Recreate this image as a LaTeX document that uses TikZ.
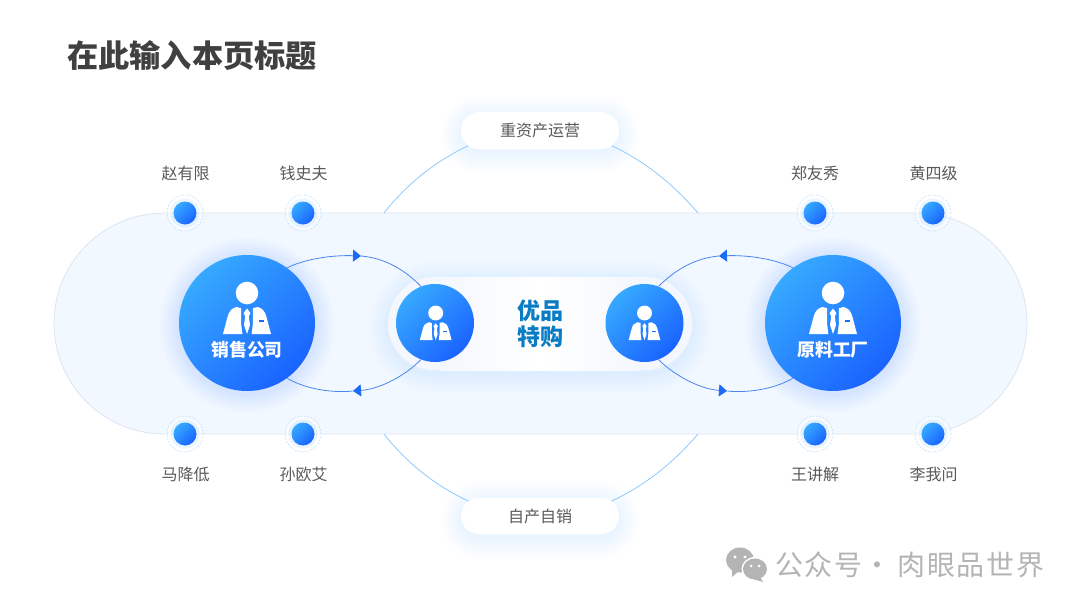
\documentclass[tikz,border=0pt]{standalone}
\usepackage{fontspec}
\setmainfont{Noto Sans CJK SC}
\newfontfamily\wmfont[LetterSpace=5.5]{Noto Sans CJK SC}
\usetikzlibrary{arrows.meta,calc,backgrounds}
\pgfdeclarelayer{glowlayer}
\pgfdeclarelayer{midlayer}
\pgfsetlayers{glowlayer,midlayer,main}
\definecolor{gradA}{HTML}{36A9FF}
\definecolor{gradB}{HTML}{1A63FF}
\definecolor{glowblue}{HTML}{2F86FF}
\definecolor{bandfill}{HTML}{F2F8FF}
\definecolor{bandline}{HTML}{DDE5EE}
\definecolor{arcblue}{HTML}{8CCBFF}
\definecolor{linkblue}{HTML}{4A86F0}
\definecolor{tipblue}{HTML}{1A6BF5}
\definecolor{labelgrey}{HTML}{595959}
\definecolor{wmgrey}{HTML}{B4B4B4}
\definecolor{centerblue}{HTML}{0A7CC4}
\definecolor{halo}{HTML}{BFE0FB}
\definecolor{pillring}{HTML}{F4F7FE}
\tikzset{
  gradcircle/.style={circle,inner sep=0pt,minimum size=#1,left color=gradA,right color=gradB,shading angle=45},
  band/.style={rectangle,rounded corners=110.5pt,fill=bandfill,draw=bandline,line width=.8pt,minimum width=973pt,minimum height=221pt,inner sep=0pt},
  whitepill/.style={rectangle,rounded corners=18pt,fill=white,minimum width=158pt,minimum height=37pt,inner sep=0pt,text=labelgrey,font=\fontsize{16}{19}\selectfont},
  person label/.style={text=labelgrey,font=\fontsize{16}{19}\selectfont,inner sep=0pt},
  role label/.style={text=white,font=\fontsize{17.8}{21}\selectfont\bfseries,inner sep=0pt},
  outer arc/.style={draw=arcblue,line width=.8pt},
  link/.style={draw=linkblue,line width=.8pt},
  linktip/.style={draw=linkblue,line width=.8pt,-{Triangle[length=8pt,width=12pt,color=tipblue]}},
  dot/.style={gradcircle=23pt},
  halo ring/.style={circle,draw=halo,dashed,dash pattern=on 1.6pt off 1.6pt,line width=.7pt,fill=white,fill opacity=.4,draw opacity=1,minimum size=36pt,inner sep=0pt},
  halo glow/.style={circle,fill=gradA,fill opacity=.1,draw=none,minimum size=29pt,inner sep=0pt},
}
\newcommand{\circleglow}[4]{% x y r spread
  \foreach \i in {1,...,10}{
    \fill[glowblue,opacity=.012] (#1,#2+2) circle[radius=#3+\i*#4];
  }}
\newcommand{\pillglow}[5]{% x1 y1 x2 y2 base radius
  \foreach \i in {1,...,10}{
    \fill[glowblue,opacity=.006,rounded corners=#5+\i*2] (#1-\i*2,#2-\i*2+4) rectangle (#3+\i*2,#4+\i*2+4);
  }}
\newcommand{\personicon}[3]{%
  \begin{scope}[shift={(#1,#2)},scale=#3]
    \fill[white] (0,0) circle[radius=11.3];
    \fill[white] (-5.8,15.2) -- (-10.5,14) .. controls (-15,15) and (-18,18) .. (-19.5,24) -- (-24,41) -- (-4.6,41) -- (-6,30) -- cycle;
    \fill[white] (5.8,15.2) -- (10.5,14) .. controls (15,15) and (18,18) .. (19.5,24) -- (24,41) -- (4.6,41) -- (6,30) -- cycle;
    \fill[white] (0,15.5) -- (-3.4,20) -- (-1.8,23.5) -- (-3,32) -- (0,41) -- (3,32) -- (1.8,23.5) -- (3.4,20) -- cycle;
    \fill[tipblue] (11.5,27.3) rectangle (17,28.8);
  \end{scope}}
\begin{document}
\begin{tikzpicture}[x=1pt,y=-1pt]
\useasboundingbox (0,0) rectangle (1080,608);
\begin{pgfonlayer}{glowlayer}
  \fill[white] (0,0) rectangle (1080,608);
\end{pgfonlayer}

% title
\node[anchor=west,inner sep=0pt,text=black!75,font=\fontsize{31.2}{36}\selectfont\bfseries] (title) at (67,56) {在此输入本页标题};

% band
\begin{pgfonlayer}{glowlayer}
  \node[band] (bandnode) at (540.5,323.5) {};
\end{pgfonlayer}

% glows
\begin{pgfonlayer}{midlayer}
  \circleglow{247}{323}{68}{2}
  \circleglow{833}{323}{68}{2}
  \pillglow{388}{277}{692}{370}{46}
  \pillglow{461}{112}{619}{149}{18}
  \pillglow{461}{498}{619}{534}{18}
\end{pgfonlayer}

% label pills
\node[whitepill] (topPill) at (540,130.5) {重资产运营};
\node[whitepill,minimum height=36pt] (botPill) at (540,516) {自产自销};

% outer arcs
\coordinate (arcTL) at (384,213);
\coordinate (arcTR) at (698,213);
\coordinate (arcBL) at (384,434);
\coordinate (arcBR) at (698,434);
\begin{pgfonlayer}{midlayer}
  \draw[outer arc] (arcTL) .. controls (405,186) and (437,158) .. ($(topPill.center)+(-60,10)$);
  \draw[outer arc] (arcTR) .. controls (675,186) and (643,158) .. ($(topPill.center)+(60,10)$);
  \draw[outer arc] (arcBL) .. controls (405,461) and (437,489) .. ($(botPill.center)+(-60,-10)$);
  \draw[outer arc] (arcBR) .. controls (675,461) and (643,489) .. ($(botPill.center)+(60,-10)$);
\end{pgfonlayer}

% center pill
\node[rectangle,rounded corners=46pt,minimum width=304pt,minimum height=93pt,inner sep=0pt,
      fill=pillring] (centerPill) at (540,323.5) {};
\shade[left color=pillring,right color=pillring,middle color=white] (440,277) rectangle (640,370);

% main circles
\node[gradcircle=136pt] (bigL) at (247,323) {};
\node[gradcircle=136pt] (bigR) at (833,323) {};
\node[gradcircle=78pt] (smallL) at (435,323) {};
\node[gradcircle=78pt] (smallR) at (644.5,323) {};
\personicon{247}{293}{1}
\personicon{833}{293}{1}
\personicon{435.7}{313}{.66}
\personicon{644.5}{313}{.66}
\node[role label] (roleL) at (247,350) {销售公司};
\node[role label] (roleR) at (833,350) {原料工厂};
\node[inner sep=0pt,align=center,text=centerblue,font=\fontsize{23}{26}\selectfont\bfseries] (centerText) at (540,323.5) {优品\\特购};

% links
\coordinate (tipTL) at (361,256);
\coordinate (tipBL) at (353,391);
\coordinate (tipTR) at (719,256);
\coordinate (tipBR) at (727,391);
\draw[linktip] (bigL.54) .. controls (307,258) and (335,255) .. (tipTL);
\draw[link] (tipTL) .. controls (385,258) and (405,270) .. (smallL.111);
\draw[linktip] (smallL.-111) .. controls (405,376) and (380,389) .. (tipBL);
\draw[link] (tipBL) .. controls (335,393) and (307,390) .. (bigL.-54);
\draw[linktip] (bigR.126) .. controls (773,258) and (745,255) .. (tipTR);
\draw[link] (tipTR) .. controls (695,258) and (675,270) .. (smallR.69);
\draw[linktip] (smallR.-69) .. controls (675,376) and (700,389) .. (tipBR);
\draw[link] (tipBR) .. controls (745,393) and (773,390) .. (bigR.-126);

% dots
\foreach \nm/\x/\y in {a/185/213,b/303/213,c/815/213,d/933/213,e/185/434,f/303/434,g/815/434,h/933/434}{
  \node[halo ring] (ring\nm) at (\x,\y) {};
  \node[halo glow] (glow\nm) at (\x,\y) {};
  \node[dot] (dot\nm) at (\x,\y) {};
}
\node[person label] (na) at (185.5,173) {赵有限};
\node[person label] (nb) at (303.5,173) {钱史夫};
\node[person label] (nc) at (815,173) {郑友秀};
\node[person label] (nd) at (933.5,173) {黄四级};
\node[person label] (ne) at (185.5,474) {马降低};
\node[person label] (nf) at (303.5,474) {孙欧艾};
\node[person label] (ng) at (815,474) {王讲解};
\node[person label] (nh) at (933.5,474) {李我问};

% watermark
\fill[wmgrey] (740,560) ellipse[x radius=14,y radius=12.5];
\fill[wmgrey] (732,570) -- (732,577) -- (739,571) -- cycle;
\fill[white] (755,569) ellipse[x radius=13.5,y radius=12];
\fill[wmgrey] (755,569) ellipse[x radius=12,y radius=10.5];
\fill[wmgrey] (760,577) -- (763,582) -- (753,579) -- cycle;
\fill[white] (735,557) circle[radius=1.7] (745,557) circle[radius=1.7] (751,566) circle[radius=1.5] (759,566) circle[radius=1.5];
\node[anchor=west,inner sep=0pt,text=wmgrey,font=\fontsize{28}{32}\wmfont] (wm) at (775,565) {公众号\kern-7pt{} · \kern-1pt{}肉眼品世界};
\end{tikzpicture}
\end{document}
